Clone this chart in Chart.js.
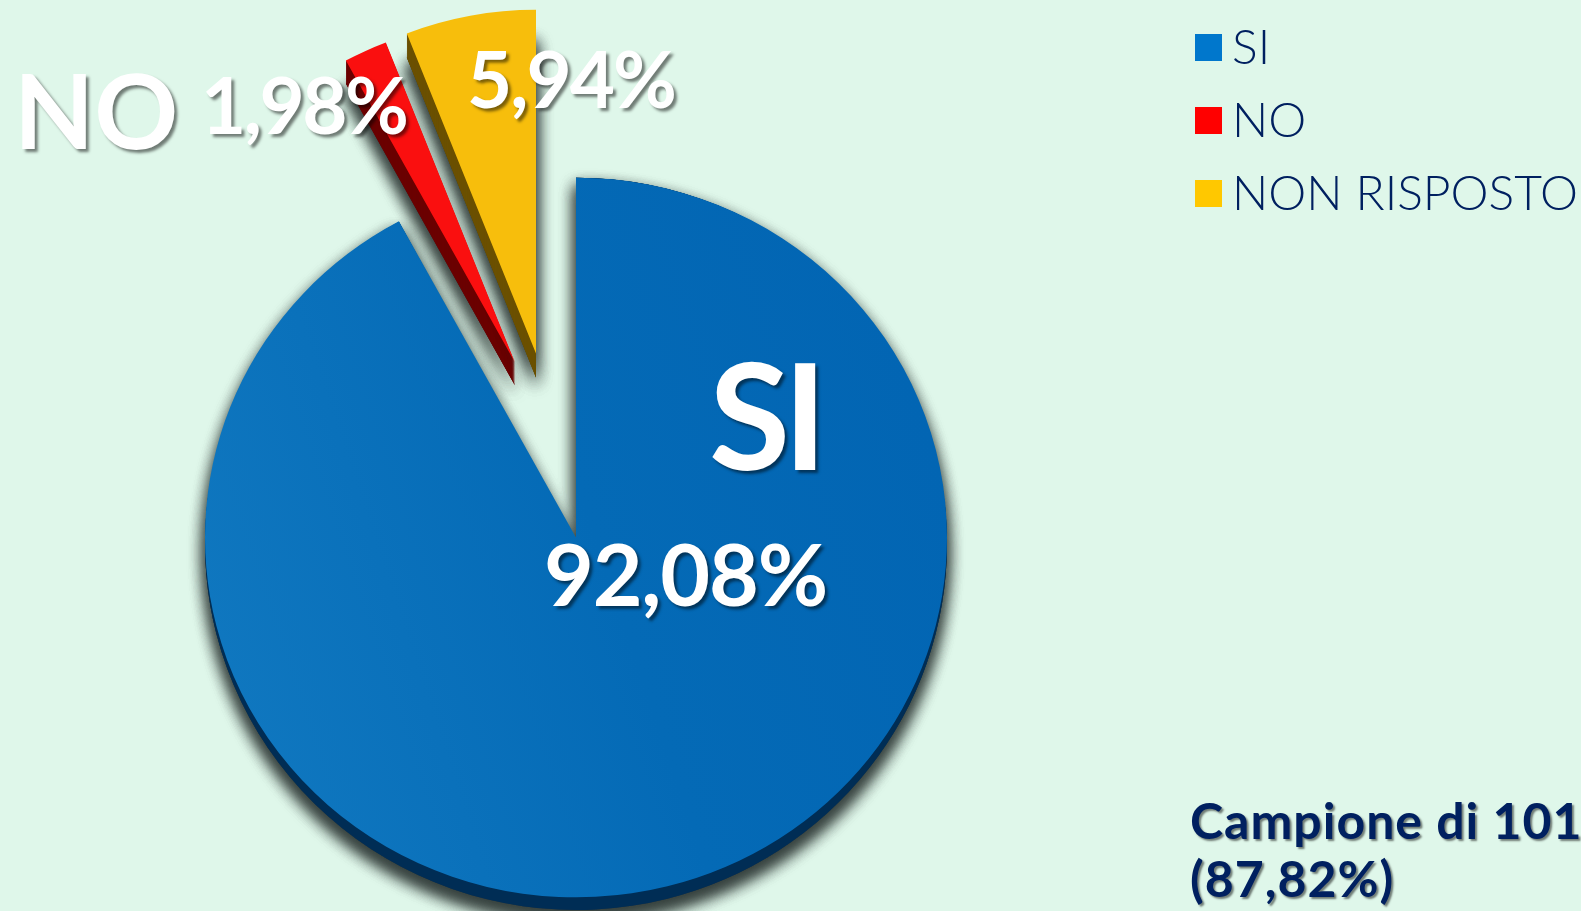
<!DOCTYPE html>
<html lang="it">
<head>
<meta charset="utf-8">
<title>Campione di 101</title>
<script src="https://cdn.jsdelivr.net/npm/chart.js@4"></script>
<style>
html, body { margin: 0; height: 100%; background: #DFF7EA; overflow: hidden; }
canvas { display: block; }
</style>
</head>
<body>
<canvas id="torta" width="1581" height="911"></canvas>
<script>
const categorie = ['SI', 'NO', 'NON RISPOSTO'];
const percentuali = [92.08, 1.98, 5.94];
const noteCampione = ['Campione di 101', '(87,82%)'];

const coloriLegenda = ['#0077CC', '#FF0000', '#FFC800'];
const coloriFianco = ['#002D55', '#6B0000', '#6B5000'];

// spostamento di ogni fetta, raggio relativo e spessore del fianco
const spostamenti = [[0, 0], [-61, -175], [-40, -184]];
const scalaRaggio = [1, 0.955, 0.955];
const schiacciamento = 0.97;
const cimaFianco = [176, 41, 12];
const altezzaFianco = [0.0175, 0, 0];
const spessoreFianco = [0, 23, 24];

const etichette = [
    { nome: 'SI', font: '700 148px Lato', spazioNome: '-7px', x: 709, y: 470, perc: '700 86px Lato', spazio: '-1.2px', px: 544, py: 606 },
    { nome: 'NO', font: '700 104px Lato', spazioNome: '0px', x: 14, y: 149, perc: '700 78px Lato', spazio: '-2.5px', px: 201, py: 134 },
    { perc: '700 78px Lato', spazio: '-2px', px: 467, py: 108 }
];

const canvas = document.getElementById('torta');
const ctx = canvas.getContext('2d');

const sfumaturaBlu = ctx.createLinearGradient(204, 720, 947, 480);
sfumaturaBlu.addColorStop(0, '#1078C0');
sfumaturaBlu.addColorStop(0.55, '#046AB6');
sfumaturaBlu.addColorStop(1, '#0265B3');

function formatoPerc(v) {
    return v.toFixed(2).replace('.', ',') + '%';
}

function posizionaFetta(c, arc, i) {
    c.translate(arc.x + spostamenti[i][0], arc.y + spostamenti[i][1]);
    c.scale(scalaRaggio[i], scalaRaggio[i] * schiacciamento);
    c.translate(-arc.x, -arc.y);
}

function copiaFianco(c, arc, i, discesa) {
    c.save();
    c.translate(0, cimaFianco[i] + discesa);
    c.scale(1, 1 + altezzaFianco[i]);
    c.translate(0, -cimaFianco[i]);
    posizionaFetta(c, arc, i);
    arc.draw(c);
    c.restore();
}

function disegnaFianchi(c, arcs) {
    arcs.forEach((arc, i) => {
        const originali = arc.options;
        arc.options = { ...originali, backgroundColor: coloriFianco[i] };

        // tre passate per avere un'ombra piena vicino al bordo
        c.save();
        c.shadowColor = 'rgba(50, 60, 58, 0.75)';
        c.shadowBlur = 16;
        c.shadowOffsetY = 9;
        copiaFianco(c, arc, i, spessoreFianco[i]);
        copiaFianco(c, arc, i, spessoreFianco[i]);
        copiaFianco(c, arc, i, spessoreFianco[i]);
        c.restore();

        for (let d = spessoreFianco[i] - 1; d > 0; d--) {
            copiaFianco(c, arc, i, d);
        }
        arc.options = originali;
    });
}

function testoOmbra(c, testo, x, y, font, spazio, colore, ombra) {
    c.save();
    c.font = font;
    c.letterSpacing = spazio;
    c.fillStyle = colore;
    c.textBaseline = 'alphabetic';
    c.shadowColor = 'rgba(0, 0, 0, 0.5)';
    c.shadowBlur = ombra;
    c.shadowOffsetX = ombra;
    c.shadowOffsetY = ombra;
    c.fillText(testo, x, y);
    c.restore();
}

const tortaRilievo = {
    id: 'tortaRilievo',
    beforeDatasetDraw(chart, args) {
        const c = chart.ctx;
        const arcs = args.meta.data;
        disegnaFianchi(c, arcs);
        arcs.forEach((arc, i) => {
            c.save();
            posizionaFetta(c, arc, i);
            arc.draw(c);
            c.restore();
        });
        return false;
    },
    afterDatasetsDraw(chart) {
        const c = chart.ctx;

        etichette.forEach((e, i) => {
            if (e.nome) testoOmbra(c, e.nome, e.x, e.y, e.font, e.spazioNome, '#FFFFFF', 3);
            testoOmbra(c, formatoPerc(percentuali[i]), e.px, e.py, e.perc, e.spazio, '#FFFFFF', 3);
        });

        // legenda
        categorie.forEach((nome, i) => {
            const y = 34 + i * 73;
            c.fillStyle = coloriLegenda[i];
            c.fillRect(1195, y, 27, 27);
            c.fillStyle = '#002060';
            c.font = '300 48px Lato';
            c.textBaseline = 'alphabetic';
            c.fillText(nome, 1232, y + 30);
        });

        noteCampione.forEach((riga, i) => {
            testoOmbra(c, riga, 1190, 839 + i * 58, 'bold 50px Lato', '1px', '#002060', 2);
        });
    }
};

new Chart(ctx, {
    type: 'pie',
    data: {
        labels: categorie,
        datasets: [{
            data: percentuali,
            backgroundColor: [sfumaturaBlu, '#FA0F0F', '#F7BE0C'],
            borderWidth: 0,
            clip: false
        }]
    },
    options: {
        responsive: false,
        animation: false,
        radius: 371,
        layout: { padding: { right: 429, top: 164 } },
        plugins: {
            legend: { display: false },
            tooltip: { enabled: false }
        }
    },
    plugins: [tortaRilievo]
});
</script>
</body>
</html>
